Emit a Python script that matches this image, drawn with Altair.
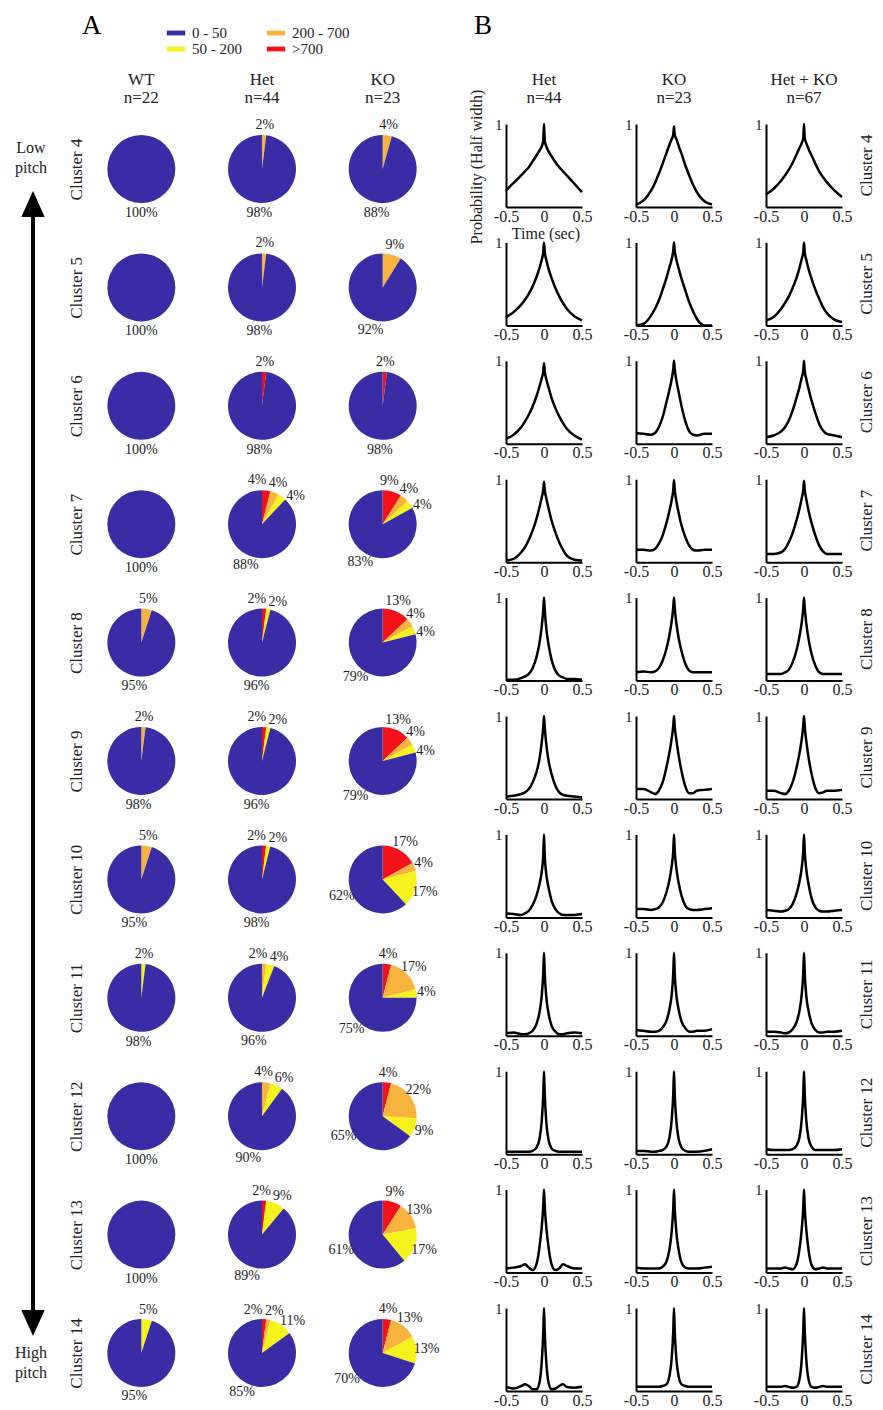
import altair as alt
import pandas as pd

FONT = "Liberation Serif"
TXT = "#222222"

# ---------------- Panel A data ----------------
clusters = ["Cluster 4", "Cluster 5", "Cluster 6", "Cluster 7", "Cluster 8", "Cluster 9",
            "Cluster 10", "Cluster 11", "Cluster 12", "Cluster 13", "Cluster 14"]
genotypes = ["WT", "Het", "KO"]
genotype_n = ["n=22", "n=44", "n=23"]
bins = [">700", "200 - 700", "50 - 200", "0 - 50"]          # clockwise from 12 o'clock
legend_order = ["0 - 50", "50 - 200", "200 - 700", ">700"]
legend_colors = ["#3a2ca4", "#f6f21c", "#f8b33f", "#f3121a"]

wt_red     = [0, 0, 0, 0, 0, 0, 0, 0, 0, 0, 0]
wt_orange  = [0, 0, 0, 0, 5, 2, 5, 0, 0, 0, 0]
wt_yellow  = [0, 0, 0, 0, 0, 0, 0, 2, 0, 0, 5]
wt_blue    = [100, 100, 100, 100, 95, 98, 95, 98, 100, 100, 95]
het_red    = [0, 0, 2, 4, 2, 2, 2, 0, 0, 2, 2]
het_orange = [2, 2, 0, 4, 0, 0, 0, 2, 4, 0, 2]
het_yellow = [0, 0, 0, 4, 2, 2, 2, 4, 6, 9, 11]
het_blue   = [98, 98, 98, 88, 96, 96, 98, 96, 90, 89, 85]
ko_red     = [0, 0, 2, 9, 13, 13, 17, 4, 4, 9, 4]
ko_orange  = [4, 9, 0, 4, 4, 4, 4, 17, 22, 13, 13]
ko_yellow  = [0, 0, 0, 4, 4, 4, 17, 4, 9, 17, 13]
ko_blue    = [88, 92, 98, 83, 79, 79, 62, 75, 65, 61, 70]

# ---------------- Panel B data ----------------
groups_b = ["Het", "KO", "Het + KO"]
groups_b_n = ["n=44", "n=23", "n=67"]
t_sec = [-0.5, -0.4, -0.3, -0.25, -0.2, -0.15, -0.1, -0.06, -0.03, -0.01, 0,
         0.01, 0.03, 0.06, 0.1, 0.15, 0.2, 0.25, 0.3, 0.4, 0.5]

het_curves = [
    [0.20, 0.29, 0.38, 0.43, 0.48, 0.55, 0.62, 0.68, 0.73, 0.80, 1.00, 0.80, 0.73, 0.67, 0.61, 0.54, 0.48, 0.43, 0.38, 0.28, 0.18],
    [0.10, 0.16, 0.25, 0.31, 0.38, 0.47, 0.58, 0.69, 0.79, 0.88, 1.00, 0.88, 0.79, 0.68, 0.57, 0.45, 0.35, 0.27, 0.20, 0.11, 0.06],
    [0.06, 0.11, 0.20, 0.27, 0.35, 0.45, 0.57, 0.69, 0.79, 0.87, 0.97, 0.87, 0.78, 0.68, 0.55, 0.43, 0.33, 0.25, 0.18, 0.10, 0.05],
    [0.02, 0.04, 0.12, 0.18, 0.27, 0.38, 0.52, 0.66, 0.78, 0.87, 0.97, 0.87, 0.77, 0.65, 0.50, 0.36, 0.24, 0.15, 0.08, 0.03, 0.02],
    [0.01, 0.01, 0.03, 0.05, 0.08, 0.15, 0.28, 0.45, 0.65, 0.85, 1.00, 0.85, 0.63, 0.43, 0.25, 0.12, 0.06, 0.04, 0.02, 0.02, 0.01],
    [0.03, 0.04, 0.06, 0.08, 0.12, 0.20, 0.32, 0.48, 0.68, 0.87, 1.00, 0.86, 0.66, 0.46, 0.30, 0.16, 0.08, 0.05, 0.04, 0.03, 0.02],
    [0.05, 0.04, 0.03, 0.05, 0.08, 0.15, 0.26, 0.40, 0.55, 0.75, 1.00, 0.74, 0.52, 0.36, 0.20, 0.10, 0.05, 0.03, 0.03, 0.03, 0.04],
    [0.03, 0.04, 0.02, 0.02, 0.03, 0.06, 0.14, 0.28, 0.48, 0.75, 1.00, 0.75, 0.47, 0.27, 0.12, 0.05, 0.02, 0.02, 0.03, 0.04, 0.03],
    [0.03, 0.03, 0.03, 0.03, 0.03, 0.04, 0.08, 0.18, 0.40, 0.72, 1.00, 0.72, 0.39, 0.17, 0.07, 0.04, 0.03, 0.03, 0.03, 0.03, 0.03],
    [0.05, 0.06, 0.08, 0.10, 0.06, 0.03, 0.10, 0.30, 0.55, 0.80, 1.00, 0.80, 0.55, 0.30, 0.10, 0.03, 0.05, 0.10, 0.08, 0.05, 0.05],
    [0.05, 0.03, 0.06, 0.08, 0.06, 0.02, 0.02, 0.10, 0.35, 0.70, 1.00, 0.70, 0.35, 0.10, 0.02, 0.03, 0.06, 0.08, 0.05, 0.04, 0.05],
]
ko_curves = [
    [0.03, 0.08, 0.20, 0.29, 0.40, 0.52, 0.65, 0.75, 0.82, 0.87, 0.97, 0.87, 0.82, 0.74, 0.64, 0.50, 0.38, 0.27, 0.18, 0.07, 0.03],
    [0.00, 0.02, 0.12, 0.20, 0.30, 0.43, 0.57, 0.70, 0.80, 0.90, 1.00, 0.90, 0.80, 0.69, 0.56, 0.42, 0.28, 0.17, 0.08, 0.00, 0.00],
    [0.13, 0.12, 0.11, 0.13, 0.20, 0.32, 0.50, 0.65, 0.78, 0.90, 1.00, 0.90, 0.77, 0.63, 0.45, 0.27, 0.15, 0.11, 0.10, 0.12, 0.12],
    [0.15, 0.15, 0.14, 0.16, 0.22, 0.32, 0.47, 0.62, 0.75, 0.87, 0.99, 0.87, 0.74, 0.60, 0.44, 0.30, 0.20, 0.15, 0.14, 0.15, 0.15],
    [0.10, 0.11, 0.10, 0.11, 0.15, 0.24, 0.38, 0.55, 0.72, 0.88, 1.00, 0.87, 0.70, 0.52, 0.35, 0.20, 0.12, 0.10, 0.10, 0.10, 0.10],
    [0.12, 0.12, 0.08, 0.06, 0.10, 0.20, 0.38, 0.56, 0.73, 0.88, 1.00, 0.87, 0.72, 0.53, 0.33, 0.15, 0.07, 0.07, 0.10, 0.11, 0.12],
    [0.10, 0.10, 0.09, 0.10, 0.12, 0.18, 0.30, 0.45, 0.62, 0.80, 1.00, 0.80, 0.60, 0.42, 0.26, 0.14, 0.10, 0.09, 0.09, 0.10, 0.11],
    [0.07, 0.06, 0.05, 0.05, 0.06, 0.10, 0.18, 0.32, 0.50, 0.75, 1.00, 0.75, 0.50, 0.32, 0.17, 0.09, 0.05, 0.05, 0.06, 0.06, 0.08],
    [0.04, 0.04, 0.03, 0.03, 0.04, 0.05, 0.09, 0.20, 0.42, 0.72, 1.00, 0.72, 0.41, 0.19, 0.08, 0.04, 0.03, 0.03, 0.03, 0.04, 0.06],
    [0.06, 0.05, 0.05, 0.05, 0.05, 0.07, 0.13, 0.28, 0.50, 0.77, 1.00, 0.77, 0.50, 0.28, 0.12, 0.06, 0.05, 0.05, 0.05, 0.06, 0.07],
    [0.05, 0.05, 0.05, 0.05, 0.05, 0.06, 0.08, 0.18, 0.40, 0.72, 1.00, 0.72, 0.40, 0.18, 0.08, 0.06, 0.05, 0.05, 0.05, 0.05, 0.05],
]
hetko_curves = [
    [0.15, 0.22, 0.32, 0.38, 0.45, 0.53, 0.63, 0.71, 0.77, 0.83, 1.00, 0.83, 0.77, 0.70, 0.62, 0.52, 0.43, 0.36, 0.30, 0.20, 0.12],
    [0.06, 0.10, 0.20, 0.27, 0.35, 0.45, 0.57, 0.69, 0.80, 0.88, 1.00, 0.88, 0.79, 0.68, 0.56, 0.43, 0.32, 0.22, 0.15, 0.07, 0.04],
    [0.08, 0.10, 0.15, 0.20, 0.28, 0.40, 0.55, 0.68, 0.80, 0.88, 1.00, 0.88, 0.78, 0.66, 0.52, 0.37, 0.24, 0.16, 0.12, 0.10, 0.08],
    [0.10, 0.10, 0.12, 0.16, 0.24, 0.35, 0.50, 0.64, 0.77, 0.87, 0.98, 0.87, 0.76, 0.62, 0.47, 0.32, 0.20, 0.13, 0.10, 0.10, 0.10],
    [0.08, 0.08, 0.08, 0.10, 0.13, 0.22, 0.36, 0.53, 0.70, 0.87, 1.00, 0.87, 0.69, 0.50, 0.32, 0.18, 0.10, 0.08, 0.08, 0.08, 0.08],
    [0.10, 0.10, 0.07, 0.06, 0.10, 0.20, 0.37, 0.55, 0.72, 0.88, 1.00, 0.87, 0.70, 0.50, 0.30, 0.13, 0.07, 0.08, 0.10, 0.10, 0.11],
    [0.09, 0.08, 0.07, 0.08, 0.10, 0.16, 0.28, 0.43, 0.60, 0.80, 1.00, 0.79, 0.58, 0.40, 0.23, 0.12, 0.08, 0.07, 0.07, 0.08, 0.09],
    [0.05, 0.05, 0.04, 0.03, 0.04, 0.08, 0.16, 0.30, 0.50, 0.75, 1.00, 0.75, 0.48, 0.30, 0.15, 0.07, 0.04, 0.04, 0.05, 0.05, 0.06],
    [0.06, 0.05, 0.05, 0.05, 0.05, 0.06, 0.10, 0.20, 0.42, 0.72, 1.00, 0.72, 0.41, 0.19, 0.09, 0.05, 0.05, 0.05, 0.05, 0.05, 0.06],
    [0.05, 0.05, 0.05, 0.06, 0.05, 0.04, 0.10, 0.28, 0.52, 0.78, 1.00, 0.78, 0.52, 0.27, 0.09, 0.04, 0.05, 0.06, 0.05, 0.05, 0.05],
    [0.05, 0.05, 0.05, 0.06, 0.05, 0.04, 0.05, 0.14, 0.38, 0.72, 1.00, 0.72, 0.38, 0.14, 0.05, 0.04, 0.05, 0.06, 0.05, 0.05, 0.05],
]

# ---------------- build pie table ----------------
pie_vals = {
    "WT": [wt_red, wt_orange, wt_yellow, wt_blue],
    "Het": [het_red, het_orange, het_yellow, het_blue],
    "KO": [ko_red, ko_orange, ko_yellow, ko_blue],
}
MIN_GAP_DEG = 28.0
rows = []
for g in genotypes:
    for ci, c in enumerate(clusters):
        vals = [arr[ci] for arr in pie_vals[g]]
        total = float(sum(vals))
        cum = 0.0
        pie_rows = []
        for b, v in zip(bins, vals):
            if v <= 0:
                continue
            start = cum / total * 100.0
            end = (cum + v) / total * 100.0
            cum += v
            pie_rows.append({"geno": g, "cluster": c, "bin": b, "start": start, "end": end,
                             "ang": (start + end) / 2 * 3.6, "label": f"{v}%"})
        pie_rows.sort(key=lambda r: r["ang"])
        for _ in range(80):
            for i in range(1, len(pie_rows)):
                gap = pie_rows[i]["ang"] - pie_rows[i - 1]["ang"]
                if gap < MIN_GAP_DEG:
                    push = (MIN_GAP_DEG - gap) / 2
                    pie_rows[i - 1]["ang"] -= push
                    pie_rows[i]["ang"] += push
        for r in pie_rows:
            r["lab_theta"] = r["ang"] / 3.6
        rows += pie_rows
pie_df = pd.DataFrame(rows)
headA_df = pd.DataFrame({"geno": genotypes,
                         "txt": [f"{g}\n{n}" for g, n in zip(genotypes, genotype_n)]})

# ---------------- Panel A chart ----------------
xA = alt.X("geno:N", scale=alt.Scale(type="point", domain=genotypes, padding=0.5), axis=None)
yA = alt.Y("cluster:N", scale=alt.Scale(type="point", domain=clusters, padding=0.38),
           axis=alt.Axis(title=None, domain=False, ticks=False, labelAngle=270, labelAlign="center",
                         labelBaseline="middle", labelFontSize=17, labelFont=FONT, labelColor=TXT,
                         labelPadding=5))
theta_scale = alt.Scale(domain=[0, 100])

arcs = alt.Chart(pie_df).mark_arc(outerRadius=34).encode(
    x=xA, y=yA,
    theta=alt.Theta("start:Q", scale=theta_scale, stack=False),
    theta2="end:Q",
    color=alt.Color("bin:N", scale=alt.Scale(domain=legend_order, range=legend_colors),
                    legend=alt.Legend(title=None, orient="none", legendX=87, legendY=-99,
                                      columns=2, symbolType="M-1.15,-0.3L1.15,-0.3L1.15,0.3L-1.15,0.3Z",
                                      symbolSize=256, symbolStrokeWidth=0, labelFontSize=15,
                                      labelFont=FONT, labelColor=TXT, columnPadding=24,
                                      rowPadding=0, padding=0, labelOffset=8)),
)
labels = alt.Chart(pie_df).mark_text(radius=44, fontSize=14, font=FONT, color=TXT).encode(
    x=xA, y=yA,
    theta=alt.Theta("lab_theta:Q", scale=theta_scale, stack=False),
    text="label:N",
)
headA = alt.Chart(headA_df).mark_text(lineBreak="\n", lineHeight=18, fontSize=17, font=FONT,
                                      color=TXT, baseline="middle").encode(
    x=xA, y=alt.value(-44), text="txt:N")

arrow_df = pd.DataFrame({"c1": ["Cluster 4"], "c2": ["Cluster 14"]})
shaft = alt.Chart(arrow_df).mark_rule(strokeWidth=4, color="black", yOffset=35, y2Offset=-30).encode(
    x=alt.value(-48), y=alt.Y("c1:N", title=None), y2="c2:N")
head_up = alt.Chart(arrow_df).mark_point(shape="M0,-1L0.9,1L-0.9,1Z", size=676, filled=True,
                                         color="black", opacity=1, yOffset=35).encode(
    x=alt.value(-48), y=alt.Y("c1:N", title=None))
head_dn = alt.Chart(arrow_df).mark_point(shape="M0,1L0.9,-1L-0.9,-1Z", size=676, filled=True,
                                         color="black", opacity=1, yOffset=-30).encode(
    x=alt.value(-48), y=alt.Y("c2:N", title=None))
pitch_df = pd.DataFrame({"c": ["Cluster 4", "Cluster 14"], "txt": ["Low\npitch", "High\npitch"]})
pitch_lo = alt.Chart(pitch_df.iloc[[0]]).mark_text(lineBreak="\n", fontSize=16, font=FONT, color=TXT,
                                                   lineHeight=20, yOffset=-21).encode(
    x=alt.value(-50), y=alt.Y("c:N", title=None), text="txt:N")
pitch_hi = alt.Chart(pitch_df.iloc[[1]]).mark_text(lineBreak="\n", fontSize=16, font=FONT, color=TXT,
                                                   lineHeight=20, yOffset=0).encode(
    x=alt.value(-50), y=alt.Y("c:N", title=None), text="txt:N")
letterA = alt.Chart(arrow_df).mark_text(text="A", fontSize=27, font=FONT, color="black",
                                        align="left", baseline="alphabetic").encode(
    x=alt.value(1), y=alt.value(-90))

panelA = alt.layer(arcs, labels, headA, shaft, head_up, head_dn, pitch_lo, pitch_hi,
                   letterA).properties(width=362, height=1274)

# ---------------- Panel B chart ----------------
brows = []
for g, curves in zip(groups_b, [het_curves, ko_curves, hetko_curves]):
    for c, ys in zip(clusters, curves):
        for t, p in zip(t_sec, ys):
            brows.append({"kind": "curve", "group": g, "cluster": c, "t": t, "p": p, "txt": ""})
for g, n in zip(groups_b, groups_b_n):
    brows.append({"kind": "head", "group": g, "cluster": clusters[0], "t": 0.0, "p": 0.0,
                  "txt": f"{g}\n{n}"})
brows.append({"kind": "note", "group": groups_b[0], "cluster": clusters[0], "t": 0.0, "p": 0.0,
              "txt": ""})
bdf = pd.DataFrame(brows)

line = alt.Chart().mark_line(color="black", strokeWidth=2.5, interpolate="monotone").encode(
    x=alt.X("t:Q", scale=alt.Scale(domain=[-0.5, 0.5], nice=False),
            axis=alt.Axis(values=[-0.5, 0, 0.5], labelExpr="toString(datum.value)", title=None,
                          grid=False, ticks=False, domainColor="black", domainWidth=2,
                          labelFontSize=16, labelFont=FONT, labelColor=TXT, labelPadding=1,
                          labelFlush=False, labelOverlap=False)),
    y=alt.Y("p:Q", scale=alt.Scale(domain=[0, 1], nice=False),
            axis=alt.Axis(values=[1], labelExpr="'1'", title=None, grid=False, ticks=False,
                          domainColor="black", domainWidth=2,
                          labelFontSize=15, labelFont=FONT, labelColor=TXT, labelPadding=4)),
).transform_filter("datum.kind == 'curve'")
headB = alt.Chart().mark_text(lineBreak="\n", lineHeight=18, fontSize=17, font=FONT, color=TXT,
                              baseline="middle").encode(
    x=alt.value(38), y=alt.value(-44), text="txt:N").transform_filter("datum.kind == 'head'")
ylab = alt.Chart().mark_text(text="Probability (Half width)", angle=270, fontSize=16, font=FONT,
                             color=TXT).encode(x=alt.value(-29), y=alt.value(43)).transform_filter(
    "datum.kind == 'note'")
xlab = alt.Chart().mark_text(text="Time (sec)", fontSize=16, font=FONT, color=TXT).encode(
    x=alt.value(40), y=alt.value(110)).transform_filter("datum.kind == 'note'")
letterB = alt.Chart().mark_text(text="B", fontSize=27, font=FONT, color="black", align="left",
                                baseline="alphabetic").encode(
    x=alt.value(-32), y=alt.value(-90)).transform_filter("datum.kind == 'note'")

panelB = alt.layer(line, headB, ylab, xlab, letterB, data=bdf).properties(width=76, height=83).facet(
    column=alt.Column("group:N", sort=groups_b, header=alt.Header(title=None, labels=False)),
    row=alt.Row("cluster:N", sort=clusters,
                header=alt.Header(title=None, labelOrient="right", labelAngle=270,
                                  labelAlign="center", labelFontSize=17, labelFont=FONT,
                                  labelColor=TXT, labelPadding=17)),
    spacing={"row": 35.4, "column": 54},
    bounds="flush",
).resolve_axis(x="independent", y="independent")

chart = alt.hconcat(panelA, panelB, spacing=24).resolve_scale(
    x="independent", y="independent", color="independent", theta="independent"
).properties(padding={"left": 6, "top": 3, "right": 0, "bottom": 0}).configure(
    font=FONT).configure_view(stroke="transparent")

chart.save("out.html", embed_options={"renderer": "svg", "actions": False})
